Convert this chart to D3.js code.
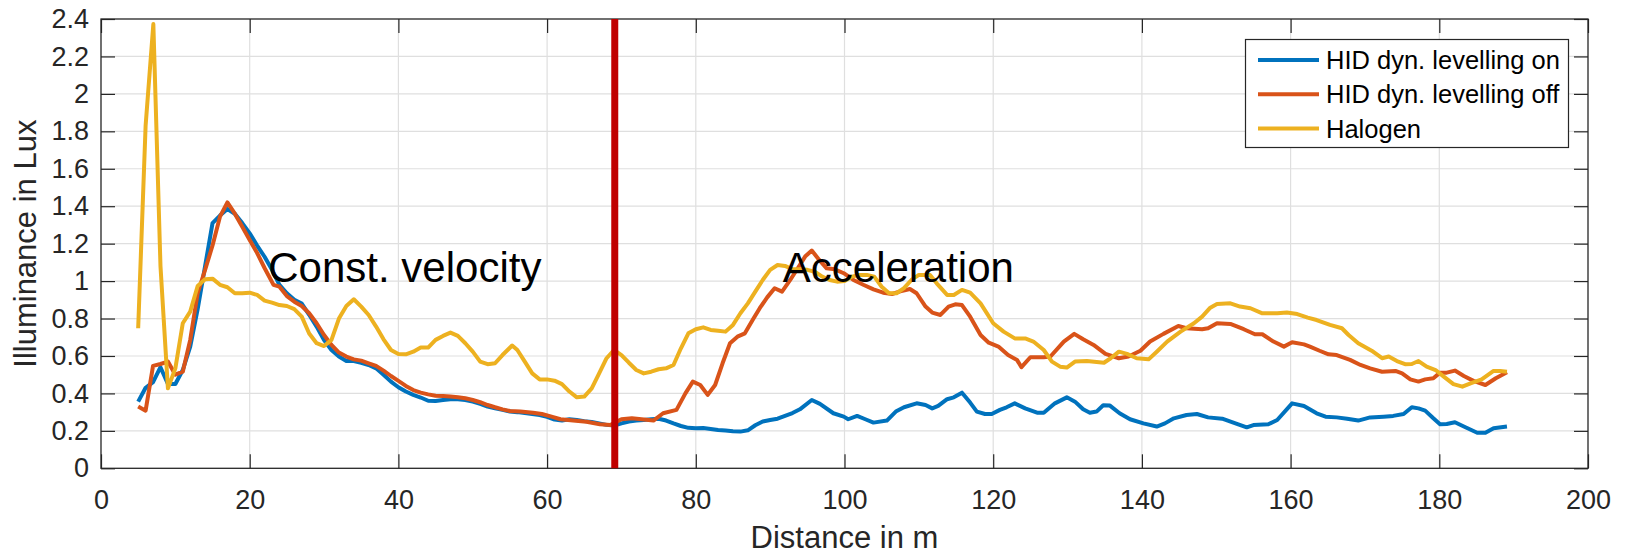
<!DOCTYPE html>
<meta charset="utf-8">
<style>
  body { margin: 0; background: #fff; }
  svg text { font-family: "Liberation Sans", Arial, Helvetica, sans-serif; }
</style>
<svg width="1627" height="554"></svg>
<script src="https://d3js.org/d3.v7.min.js"></script>
<script>

// distance (m) / illuminance (lux) pairs
var hidOn = [[5,.356],[6,.43],[7,.46],[8,.54],[9,.45],[10,.45],[11,.525],[12,.65],[13,.85],[14,1.08],[15,1.31],[16,1.35],[17,1.385],[18,1.36],[19,1.31],[20,1.255],[21,1.19],[22,1.13],[23,1.06],[24,.98],[25,.935],[26,.90],[27,.88],[28,.82],[29,.757],[30,.685],[31,.632],[32,.597],[33,.573],[34,.573],[35,.564],[36,.552],[37,.534],[38,.50],[39,.463],[40,.433],[41,.41],[42,.392],[43,.378],[44,.361],[45,.36],[46,.365],[47,.369],[48,.369],[49,.365],[50,.356],[51,.344],[52,.33],[53,.32],[54,.312],[55,.303],[56,.30],[57,.295],[58,.29],[59,.285],[60,.275],[61,.26],[62,.255],[63,.262],[64,.258],[65,.252],[66,.248],[67,.24],[68,.232],[69,.228],[70,.24],[71,.25],[72,.255],[73,.258],[74,.262],[75,.265],[76,.255],[77,.24],[78,.226],[79,.216],[80,.214],[81,.215],[82,.21],[83,.205],[84,.202],[85,.198],[86,.196],[87,.203],[88,.23],[89,.25],[90,.258],[91,.265],[92,.28],[93,.295],[94,.315],[95.6,.365],[96.7,.344],[98.5,.294],[99.9,.276],[100.5,.262],[101.7,.28],[102.8,.262],[103.9,.244],[105.7,.255],[106.9,.303],[108,.326],[109.7,.347],[110.9,.338],[111.8,.32],[112.6,.333],[113.8,.369],[114.7,.379],[115.8,.404],[116.9,.351],[117.8,.303],[118.9,.29],[119.8,.29],[120.9,.312],[121.8,.326],[122.9,.347],[124.3,.32],[125.9,.297],[126.8,.297],[128.3,.347],[129.9,.379],[131,.356],[132.1,.315],[133,.297],[133.9,.303],[134.8,.337],[135.7,.335],[137,.294],[138.4,.262],[140.2,.24],[142,.223],[143.1,.24],[144.3,.267],[146,.285],[147.4,.29],[148.9,.272],[150.8,.265],[152.3,.244],[154.1,.219],[155,.231],[157,.235],[158.2,.258],[160.2,.347],[161.8,.333],[163.5,.294],[164.7,.276],[166.2,.272],[167.6,.265],[169.1,.255],[170.7,.272],[172.5,.276],[173.8,.28],[175.2,.29],[176.3,.326],[177.2,.32],[178.1,.308],[179.2,.267],[180.1,.235],[181,.237],[182.1,.246],[183.3,.223],[185.1,.19],[186.2,.19],[187.3,.214],[189.1,.223]];

var hidOff = [[5,.33],[6,.308],[7,.547],[8,.557],[9,.57],[10,.50],[11,.516],[12,.686],[13,.935],[14,1.06],[15,1.19],[16,1.344],[17,1.42],[18,1.36],[19,1.29],[20,1.22],[21,1.15],[22,1.07],[23.2,.98],[24,.97],[25,.92],[26,.89],[27,.867],[28,.828],[29,.775],[30,.712],[31,.659],[32,.618],[33,.597],[34,.582],[35,.575],[36,.561],[37,.547],[38,.522],[39,.493],[40,.467],[41,.44],[42,.418],[43,.404],[44,.395],[45,.388],[46,.386],[47,.383],[48,.379],[49,.374],[50,.365],[51,.353],[52,.338],[53,.326],[54,.315],[55,.306],[56.4,.303],[58.1,.297],[59.3,.29],[60.6,.276],[61.8,.262],[63.5,.255],[65.3,.249],[67.1,.235],[68.5,.231],[70,.262],[71.4,.267],[72.7,.262],[74.3,.255],[75.6,.294],[77.4,.312],[78.6,.40],[79.6,.463],[80.6,.445],[81.6,.392],[82.6,.445],[83.6,.561],[84.6,.668],[85.6,.703],[86.6,.721],[87.7,.796],[88.6,.855],[89.6,.913],[90.6,.962],[91.6,.944],[92.7,1.006],[93.8,1.074],[94.7,1.131],[95.6,1.163],[96.6,1.113],[97.6,1.068],[98.7,1.063],[99.9,1.042],[101.2,1.006],[102.6,.979],[103.9,.956],[105.2,.938],[106.4,.931],[107.5,.945],[108.8,.958],[109.7,.935],[110.9,.864],[111.8,.832],[112.9,.819],[114,.864],[114.9,.876],[115.8,.872],[116.9,.81],[118.3,.712],[119.4,.671],[120.7,.65],[122,.605],[123.2,.579],[123.8,.54],[125,.593],[126.8,.593],[127.7,.597],[129.5,.677],[130.9,.718],[132.1,.689],[133.5,.659],[135.1,.611],[136.9,.588],[138.2,.597],[139.8,.628],[141.1,.677],[142.9,.718],[144.9,.76],[146,.748],[148.1,.743],[148.9,.748],[150.1,.775],[151.9,.771],[153.7,.743],[155.2,.716],[156.2,.716],[157.7,.677],[159.1,.65],[160.2,.673],[161.8,.662],[162.6,.65],[163.9,.628],[165.1,.609],[166.2,.605],[168,.579],[169.4,.552],[170.7,.534],[172.3,.516],[174.1,.52],[175,.507],[176.1,.475],[177.2,.463],[178.1,.475],[179.2,.481],[180.1,.511],[181,.511],[182.1,.522],[183.3,.493],[184.6,.467],[186.2,.445],[187.6,.481],[189.1,.513]];

var halogen = [[5,.748],[6,1.83],[7.04,2.373],[8,1.08],[9,.427],[10,.534],[11,.775],[12,.837],[13,.974],[14,1.01],[15,1.013],[16,.98],[17,.967],[18,.935],[19,.935],[20,.938],[21,.926],[22,.896],[23,.885],[24,.872],[25,.867],[26,.85],[27,.81],[28,.72],[29,.668],[30,.653],[31,.686],[32,.80],[33,.867],[34,.903],[35,.864],[36,.819],[37,.757],[38,.689],[39,.632],[40,.611],[41,.609],[42,.623],[43,.645],[44,.645],[45,.686],[46,.707],[47,.725],[48,.707],[49,.668],[50,.623],[51,.57],[52,.556],[53,.561],[54,.605],[55.3,.656],[56,.632],[57,.57],[58,.507],[59,.475],[60,.475],[61,.468],[62,.45],[63,.41],[64,.379],[65,.383],[66,.427],[67,.507],[68,.588],[69,.632],[70,.605],[71,.564],[72,.525],[73,.507],[74,.516],[75,.529],[76,.534],[77,.552],[78,.641],[79,.721],[80,.743],[81,.753],[82,.739],[83,.735],[84,.73],[85,.766],[86,.828],[87,.881],[88,.944],[89,1.006],[90,1.06],[91,1.086],[92,1.081],[93,1.063],[94,1.063],[95,1.06],[96,1.05],[97,1.024],[98,1.006],[99,.997],[100,1.0],[101,1.024],[102,1.033],[103,1.033],[104,1.024],[105,.97],[106,.935],[107,.935],[108,.962],[109,1.006],[110,1.033],[111.5,1.033],[112.4,.988],[113.8,.926],[114.7,.926],[115.8,.953],[116.9,.938],[118.3,.881],[120,.775],[121.4,.73],[122.9,.694],[124.3,.694],[125.4,.677],[126.8,.632],[127.9,.57],[129,.543],[129.9,.538],[131,.57],[132.6,.573],[134.9,.564],[135.8,.588],[136.9,.623],[138,.611],[139.3,.588],[140.9,.582],[142,.623],[143.4,.677],[145.2,.73],[147,.775],[148.1,.81],[149.2,.858],[150.1,.878],[151.9,.881],[153.2,.864],[154.6,.855],[156.2,.828],[158.2,.828],[159.5,.832],[160.9,.824],[162.3,.805],[163.5,.792],[165.3,.766],[166.9,.748],[167.8,.712],[169.1,.668],[170.9,.628],[172.3,.588],[173.2,.597],[174.3,.573],[175.4,.556],[176.3,.557],[177.2,.573],[178.3,.543],[179.5,.525],[180.6,.49],[181.9,.45],[183.1,.436],[184.2,.454],[185.7,.475],[187.3,.52],[188.2,.52],[189.1,.516]];

var seriesNames = ["HID dyn. levelling on", "HID dyn. levelling off", "Halogen"];
var seriesColors = ["#0072bd", "#d95319", "#edb120"];
var xTicks = [0, 20, 40, 60, 80, 100, 120, 140, 160, 180, 200];
var yTicks = [0, 0.2, 0.4, 0.6, 0.8, 1, 1.2, 1.4, 1.6, 1.8, 2, 2.2, 2.4];
var phaseSwitch = 69.1;   // end of constant velocity
var phaseLabels = [{text: "Const. velocity", x: 22.5, y: 0.995}, {text: "Acceleration", x: 91.7, y: 0.995}];

var svg = d3.select("svg"),
    plotLeft = 101, plotRight = 1588, plotTop = 19, plotBottom = 468.3,
    tickLen = 14;

var x = d3.scaleLinear().domain([0, 200]).range([plotLeft, plotRight]);
var y = d3.scaleLinear().domain([0, 2.4]).range([plotBottom, plotTop]);

// grid
svg.append("g").selectAll("line")
    .data(xTicks.slice(1, -1))
  .enter().append("line")
    .attr("x1", function(d) { return x(d); }).attr("x2", function(d) { return x(d); })
    .attr("y1", plotTop).attr("y2", plotBottom)
    .attr("stroke", "#dfdfdf").attr("stroke-width", 1.2);

svg.append("g").selectAll("line")
    .data(yTicks.slice(1, -1))
  .enter().append("line")
    .attr("y1", function(d) { return y(d); }).attr("y2", function(d) { return y(d); })
    .attr("x1", plotLeft).attr("x2", plotRight)
    .attr("stroke", "#dfdfdf").attr("stroke-width", 1.2);

// axes, ticks pointing inward on all four sides
function styleAxis(g) {
  g.select(".domain").remove();
  g.selectAll(".tick line").attr("stroke", "#262626").attr("stroke-width", 1.2);
  g.selectAll(".tick text")
      .attr("fill", "#262626")
      .style("font-size", "27px");
}

svg.append("g")
    .attr("transform", "translate(0," + plotBottom + ")")
    .call(d3.axisBottom(x).tickValues(xTicks).tickFormat(d3.format("d"))
      .tickSizeInner(-tickLen).tickSizeOuter(0).tickPadding(22))
    .call(styleAxis);

svg.append("g")
    .attr("transform", "translate(0," + plotTop + ")")
    .call(d3.axisTop(x).tickValues(xTicks).tickFormat("")
      .tickSizeInner(-tickLen).tickSizeOuter(0))
    .call(styleAxis);

svg.append("g")
    .attr("transform", "translate(" + plotLeft + ",0)")
    .call(d3.axisLeft(y).tickValues(yTicks).tickFormat(d3.format("~g"))
      .tickSizeInner(-tickLen).tickSizeOuter(0).tickPadding(12))
    .call(styleAxis);

svg.append("g")
    .attr("transform", "translate(" + plotRight + ",0)")
    .call(d3.axisRight(y).tickValues(yTicks).tickFormat("")
      .tickSizeInner(-tickLen).tickSizeOuter(0))
    .call(styleAxis);

svg.append("rect")
    .attr("x", plotLeft).attr("y", plotTop)
    .attr("width", plotRight - plotLeft).attr("height", plotBottom - plotTop)
    .attr("fill", "none").attr("stroke", "#262626").attr("stroke-width", 1.3);

// series
var line = d3.line()
    .x(function(d) { return x(d[0]); })
    .y(function(d) { return y(d[1]); });

[hidOn, hidOff, halogen].forEach(function(data, i) {
  svg.append("path")
      .attr("fill", "none")
      .attr("stroke", seriesColors[i])
      .attr("stroke-width", 4)
      .attr("stroke-linejoin", "round")
      .attr("d", line(data));
});

// phase boundary
svg.append("line")
    .attr("x1", x(phaseSwitch)).attr("x2", x(phaseSwitch))
    .attr("y1", plotTop).attr("y2", plotBottom)
    .attr("stroke", "#c00000").attr("stroke-width", 7);

svg.selectAll(".phase")
    .data(phaseLabels)
  .enter().append("text")
    .attr("class", "phase")
    .attr("x", function(d) { return x(d.x); })
    .attr("y", function(d) { return y(d.y); })
    .style("font-size", "42px")
    .attr("fill", "#000")
    .text(function(d) { return d.text; });

// axis titles
svg.append("text")
    .attr("x", (plotLeft + plotRight) / 2).attr("y", 548)
    .attr("text-anchor", "middle")
    .attr("fill", "#262626")
    .style("font-size", "31px")
    .text("Distance in m");

svg.append("text")
    .attr("transform", "translate(36," + (plotTop + plotBottom) / 2 + ") rotate(-90)")
    .attr("text-anchor", "middle")
    .attr("fill", "#262626")
    .style("font-size", "31px")
    .text("Illuminance in Lux");

// legend
var legend = svg.append("g");
legend.append("rect")
    .attr("x", 1245.5).attr("y", 39.5)
    .attr("width", 323).attr("height", 108)
    .attr("fill", "#fff").attr("stroke", "#262626").attr("stroke-width", 1.2);

var items = legend.selectAll(".item")
    .data(seriesNames)
  .enter().append("g")
    .attr("transform", function(d, i) { return "translate(0," + (60 + i * 34.2) + ")"; });

items.append("line")
    .attr("x1", 1258).attr("x2", 1319)
    .attr("stroke", function(d, i) { return seriesColors[i]; })
    .attr("stroke-width", 4);

items.append("text")
    .attr("x", 1326).attr("dy", "0.36em")
    .attr("fill", "#000")
    .style("font-size", "25.5px")
    .text(function(d) { return d; });

</script>
